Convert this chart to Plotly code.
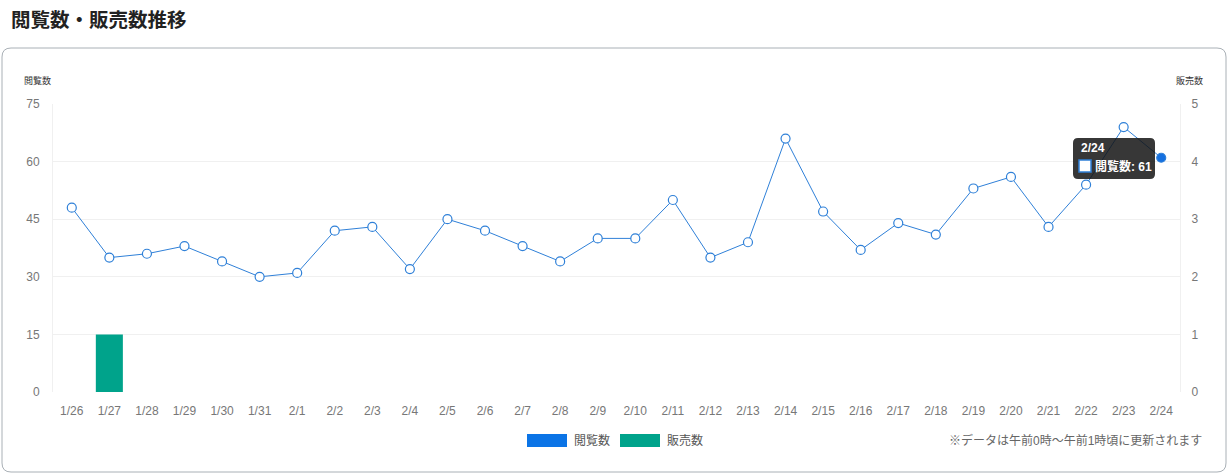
import plotly.graph_objects as go

# data
dates = ["1/26", "1/27", "1/28", "1/29", "1/30", "1/31", "2/1", "2/2", "2/3", "2/4",
         "2/5", "2/6", "2/7", "2/8", "2/9", "2/10", "2/11", "2/12", "2/13", "2/14",
         "2/15", "2/16", "2/17", "2/18", "2/19", "2/20", "2/21", "2/22", "2/23", "2/24"]
views = [48, 35, 36, 38, 34, 30, 31, 42, 43, 32,
         45, 42, 38, 34, 40, 40, 50, 35, 39, 66,
         47, 37, 44, 41, 53, 56, 43, 54, 69, 61]
sales = [0, 1, 0, 0, 0, 0, 0, 0, 0, 0,
         0, 0, 0, 0, 0, 0, 0, 0, 0, 0,
         0, 0, 0, 0, 0, 0, 0, 0, 0, 0]
view_ticks = [0, 15, 30, 45, 60, 75]
sales_ticks = [0, 1, 2, 3, 4, 5]

W, H = 1229, 475
L, R, T, B = 53, 1180, 104, 392
FONT = "Liberation Sans, Noto Sans CJK JP, sans-serif"
BLUE = "#2f80d8"
TEAL = "#00a38b"


def px(x, y):
    # page pixels -> paper coords
    return (x - L) / (R - L), (B - y) / (B - T)


def rounded(x0, y0, x1, y1, r):
    a = px(x0, y0)
    b = px(x1, y1)
    rx = r / (R - L)
    ry = r / (B - T)
    return (f"M{a[0]+rx},{a[1]} L{b[0]-rx},{a[1]} Q{b[0]},{a[1]} {b[0]},{a[1]-ry} "
            f"L{b[0]},{b[1]+ry} Q{b[0]},{b[1]} {b[0]-rx},{b[1]} "
            f"L{a[0]+rx},{b[1]} Q{a[0]},{b[1]} {a[0]},{b[1]+ry} "
            f"L{a[0]},{a[1]-ry} Q{a[0]},{a[1]} {a[0]+rx},{a[1]} Z")


fig = go.Figure()
fig.add_trace(go.Bar(x=dates, y=sales, yaxis="y2", name="販売数",
                     marker=dict(color=TEAL, line=dict(width=0)), width=0.72))
fig.add_trace(go.Scatter(
    x=dates, y=views, name="閲覧数", mode="lines+markers",
    line=dict(color=BLUE, width=1),
    marker=dict(size=9, color=["white"] * (len(views) - 1) + ["#1570e0"],
                line=dict(color=BLUE, width=1.2)),
))

shapes = [dict(type="path", xref="paper", yref="paper", path=rounded(2, 48, 1226, 472, 9),
               line=dict(color="#a9b0b6", width=1), fillcolor="rgba(0,0,0,0)", layer="below")]

annotations = [
    dict(text="<b>閲覧数・販売数推移</b>", x=px(9, 20)[0], y=px(9, 20)[1], xanchor="left",
         yanchor="middle", font=dict(size=19.5, color="#222", family=FONT)),
    dict(text="閲覧数", x=px(37, 80)[0], y=px(37, 80)[1], xanchor="center", yanchor="middle",
         font=dict(size=9, color="#333", family=FONT)),
    dict(text="販売数", x=px(1189, 80)[0], y=px(1189, 80)[1], xanchor="center", yanchor="middle",
         font=dict(size=9, color="#333", family=FONT)),
    dict(text="※データは午前0時〜午前1時頃に更新されます", x=px(1204, 440)[0], y=px(1204, 440)[1],
         xanchor="right", yanchor="middle", font=dict(size=12, color="#666", family=FONT)),
]

# custom legend
for x0, color, label in [(527, "#0b74e6", "閲覧数"), (620, TEAL, "販売数")]:
    p0 = px(x0, 434)
    p1 = px(x0 + 40, 447)
    shapes.append(dict(type="rect", xref="paper", yref="paper", x0=p0[0], y0=p0[1], x1=p1[0], y1=p1[1],
                       fillcolor=color, line=dict(width=0)))
    pt = px(x0 + 45, 440)
    annotations.append(dict(text=label, x=pt[0], y=pt[1], xanchor="left", yanchor="middle",
                            font=dict(size=12, color="#555", family=FONT)))

# hover tooltip at 2/24
shapes.append(dict(type="path", xref="paper", yref="paper", path=rounded(1073, 138, 1155, 179, 5),
                   fillcolor="rgba(20,20,20,0.85)", line=dict(width=0)))
s0 = px(1079, 160)
s1 = px(1091, 172)
shapes.append(dict(type="rect", xref="paper", yref="paper", x0=s0[0], y0=s0[1], x1=s1[0], y1=s1[1],
                   fillcolor="white", line=dict(color=BLUE, width=1.5)))
pt = px(1079, 148)
annotations.append(dict(text="<b>2/24</b>", x=pt[0], y=pt[1], xanchor="left", yanchor="middle",
                        font=dict(size=12, color="white", family=FONT)))
pt = px(1093, 166)
annotations.append(dict(text="<b>閲覧数: 61</b>", x=pt[0], y=pt[1], xanchor="left", yanchor="middle",
                        font=dict(size=12, color="white", family=FONT)))

for a in annotations:
    a.update(xref="paper", yref="paper", showarrow=False)

fig.update_layout(
    width=W, height=H,
    margin=dict(l=L, r=W - R, t=T, b=H - B),
    paper_bgcolor="white", plot_bgcolor="white",
    showlegend=False,
    font=dict(family=FONT, size=12, color="#777"),
    bargap=0.28,
    xaxis=dict(type="category", range=[-0.5, len(dates) - 0.5], showgrid=False,
               showline=False, zeroline=False,
               ticks="outside", ticklen=8, tickcolor="rgba(0,0,0,0)",
               tickfont=dict(size=12, color="#777")),
    yaxis=dict(range=[0, 75], tickvals=view_ticks, gridcolor="#f0f0f0", gridwidth=1,
               zeroline=False, showline=True, linecolor="#f0f0f0",
               ticks="outside", ticklen=10, tickcolor="rgba(0,0,0,0)",
               tickfont=dict(size=12, color="#777")),
    yaxis2=dict(range=[0, 5], tickvals=sales_ticks, overlaying="y", side="right",
                showgrid=False, zeroline=False, showline=True, linecolor="#f0f0f0",
                ticks="outside", ticklen=8, tickcolor="rgba(0,0,0,0)",
                tickfont=dict(size=12, color="#777")),
    shapes=shapes,
    annotations=annotations,
)

# page has a default 8px body margin; drop it so the figure sits at 0,0
fig.write_html("out.html", config=dict(displayModeBar=False),
               post_script="document.body.style.margin='0';")
